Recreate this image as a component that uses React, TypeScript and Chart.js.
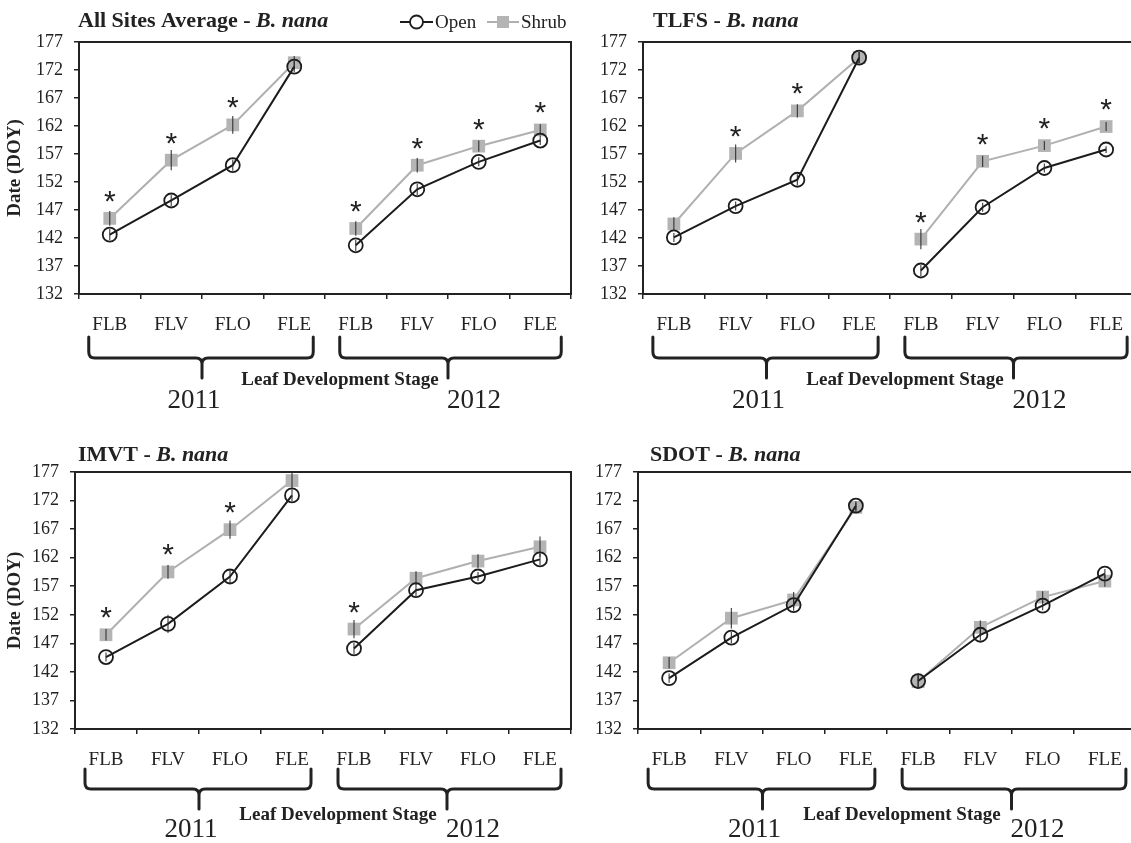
import React, { useEffect, useRef } from 'react';
import { Chart, registerables } from 'chart.js';

Chart.register(...registerables);

// ---------- data ----------
const stages = ['FLB', 'FLV', 'FLO', 'FLE', 'FLB', 'FLV', 'FLO', 'FLE'];
const years = ['2011', '2012'];
const yTicks = [132, 137, 142, 147, 152, 157, 162, 167, 172, 177];
const seriesNames = ['Open', 'Shrub'];
const xAxisTitle = 'Leaf Development Stage';
const yAxisTitle = 'Date (DOY)';
const species = 'B. nana';

const allOpen = [142.6, 148.7, 155.0, 172.6, 140.7, 150.7, 155.6, 159.4];
const allShrub = [145.5, 155.9, 162.2, 173.3, 143.7, 155.0, 158.4, 161.3];
const allOpenErr = [1.0, 1.0, 1.0, 1.0, 1.0, 1.0, 0.8, 0.8];
const allShrubErr = [1.3, 1.8, 1.6, 1.2, 1.3, 1.3, 1.0, 1.0];
const allSig = [1, 1, 1, 0, 1, 1, 1, 1];

const tlfsOpen = [142.1, 147.7, 152.4, 174.2, 136.2, 147.5, 154.5, 157.8];
const tlfsShrub = [144.5, 157.1, 164.7, 174.2, 141.8, 155.7, 158.5, 161.9];
const tlfsOpenErr = [0.8, 0.8, 1.0, 1.0, 1.0, 0.8, 0.8, 0.6];
const tlfsShrubErr = [1.2, 1.6, 1.2, 1.0, 1.8, 1.0, 0.8, 0.8];
const tlfsSig = [0, 1, 1, 0, 1, 1, 1, 1];

const imvtOpen = [144.6, 150.4, 158.7, 172.9, 146.1, 156.3, 158.7, 161.7];
const imvtShrub = [148.5, 159.5, 166.9, 175.5, 149.5, 158.4, 161.4, 163.9];
const imvtOpenErr = [0.8, 1.6, 1.2, 1.0, 1.0, 1.0, 0.8, 1.0];
const imvtShrubErr = [1.0, 1.2, 1.6, 1.6, 1.6, 1.2, 1.2, 1.8];
const imvtSig = [1, 1, 1, 0, 1, 0, 0, 0];

const sdotOpen = [140.9, 148.0, 153.7, 171.1, 140.4, 148.5, 153.6, 159.2];
const sdotShrub = [143.6, 151.4, 154.6, 170.8, 140.3, 149.8, 155.1, 157.9];
const sdotOpenErr = [0.8, 1.0, 1.0, 0.8, 1.4, 1.0, 0.8, 0.8];
const sdotShrubErr = [1.0, 1.8, 1.4, 0.8, 1.2, 1.2, 1.0, 1.0];
const sdotSig = [0, 0, 0, 0, 0, 0, 0, 0];

// ---------- styles ----------
const SERIF = '"Liberation Serif", "Times New Roman", serif';
const INK = '#222222';
const OPEN_COLOR = '#1c1c1c';
const SHRUB_LINE = '#b0b0b0';
const SHRUB_FILL = '#b4b4b4';

type PanelDef = {
  site: string;
  open: number[];
  shrub: number[];
  openErr: number[];
  shrubErr: number[];
  sig: number[];
  left: number;
  top: number;
  width: number;
  height: number;
  yWidth: number;
  xHeight: number;
  padTop: number;
  padRight: number;
  titleX: number;
  titleY: number;
  showYTitle: boolean;
  showLegend: boolean;
  deco: { bTop: number; bH: number; bStem: number; ldsY: number; yearY: number };
};

const topDeco = { bTop: 43, bH: 64, bStem: 84, ldsY: 91, yearY: 114 };
const botDeco = { bTop: 40, bH: 60, bStem: 80, ldsY: 91, yearY: 108 };

const panels: PanelDef[] = [
  {
    site: 'All Sites Average', open: allOpen, shrub: allShrub, openErr: allOpenErr, shrubErr: allShrubErr, sig: allSig,
    left: 0, top: 0, width: 580, height: 420, yWidth: 79, xHeight: 126, padTop: 42, padRight: 6,
    titleX: 78, titleY: 27, showYTitle: true, showLegend: true, deco: topDeco,
  },
  {
    site: 'TLFS', open: tlfsOpen, shrub: tlfsShrub, openErr: tlfsOpenErr, shrubErr: tlfsShrubErr, sig: tlfsSig,
    left: 564, top: 0, width: 582, height: 420, yWidth: 79, xHeight: 126, padTop: 42, padRight: 6,
    titleX: 89, titleY: 27, showYTitle: false, showLegend: false, deco: topDeco,
  },
  {
    site: 'IMVT', open: imvtOpen, shrub: imvtShrub, openErr: imvtOpenErr, shrubErr: imvtShrubErr, sig: imvtSig,
    left: 0, top: 430, width: 580, height: 413, yWidth: 75, xHeight: 114, padTop: 42, padRight: 6,
    titleX: 78, titleY: 31, showYTitle: true, showLegend: false, deco: botDeco,
  },
  {
    site: 'SDOT', open: sdotOpen, shrub: sdotShrub, openErr: sdotOpenErr, shrubErr: sdotShrubErr, sig: sdotSig,
    left: 563, top: 430, width: 582, height: 413, yWidth: 75, xHeight: 114, padTop: 42, padRight: 6,
    titleX: 87, titleY: 31, showYTitle: false, showLegend: false, deco: botDeco,
  },
];

function drawBracket(ctx: CanvasRenderingContext2D, x1: number, x2: number, xm: number, yTop: number, yH: number, yStem: number) {
  const r = 6;
  ctx.beginPath();
  ctx.moveTo(x1, yTop);
  ctx.lineTo(x1, yH - r);
  ctx.quadraticCurveTo(x1, yH, x1 + r, yH);
  ctx.lineTo(xm - r, yH);
  ctx.quadraticCurveTo(xm, yH, xm, yH + r);
  ctx.lineTo(xm, yStem);
  ctx.moveTo(xm, yH + r);
  ctx.quadraticCurveTo(xm, yH, xm + r, yH);
  ctx.lineTo(x2 - r, yH);
  ctx.quadraticCurveTo(x2, yH, x2, yH - r);
  ctx.lineTo(x2, yTop);
  ctx.stroke();
}

function makeDecorPlugin(def: PanelDef) {
  return {
    id: 'decor',
    afterDatasetsDraw(chart: any) {
      const ctx: CanvasRenderingContext2D = chart.ctx;
      const xs = chart.scales.x;
      const ys = chart.scales.y;
      ctx.save();
      // error bars
      ctx.strokeStyle = 'rgba(40,40,40,0.85)';
      ctx.lineWidth = 1.2;
      const bars = (vals: number[], errs: number[]) => {
        vals.forEach((v, i) => {
          const x = xs.getPixelForTick(i);
          ctx.beginPath();
          ctx.moveTo(x, ys.getPixelForValue(v - errs[i]));
          ctx.lineTo(x, ys.getPixelForValue(v + errs[i]));
          ctx.stroke();
        });
      };
      bars(def.shrub, def.shrubErr);
      bars(def.open, def.openErr);
      // significance asterisks
      ctx.fillStyle = INK;
      ctx.font = '30px "Liberation Sans", sans-serif';
      ctx.textAlign = 'center';
      ctx.textBaseline = 'alphabetic';
      const m = ctx.measureText('*');
      const mid = (m.actualBoundingBoxAscent - m.actualBoundingBoxDescent) / 2;
      def.sig.forEach((s, i) => {
        if (!s) return;
        const top = Math.max(def.shrub[i], def.open[i]);
        const cy = ys.getPixelForValue(top) - 22;
        ctx.fillText('*', xs.getPixelForTick(i), cy + mid);
      });
      ctx.restore();
    },
    afterDraw(chart: any) {
      const ctx: CanvasRenderingContext2D = chart.ctx;
      const ca = chart.chartArea;
      const xs = chart.scales.x;
      const d = def.deco;
      ctx.save();
      // frame
      ctx.strokeStyle = INK;
      ctx.lineWidth = 2;
      ctx.strokeRect(ca.left, ca.top, ca.right - ca.left, ca.bottom - ca.top);

      // title
      ctx.fillStyle = INK;
      ctx.textAlign = 'left';
      ctx.textBaseline = 'alphabetic';
      ctx.font = `bold 22px ${SERIF}`;
      const part1 = def.site + ' - ';
      ctx.fillText(part1, def.titleX, def.titleY);
      const w1 = ctx.measureText(part1).width;
      ctx.font = `italic bold 22px ${SERIF}`;
      ctx.fillText(species, def.titleX + w1, def.titleY);

      // brackets
      const c = stages.map((_, i) => xs.getPixelForTick(i));
      ctx.lineWidth = 3;
      ctx.lineCap = 'round';
      ctx.lineJoin = 'round';
      const b = ca.bottom;
      const m1 = (c[0] + c[3]) / 2;
      const m2 = (c[4] + c[7]) / 2;
      drawBracket(ctx, c[0] - 21, c[3] + 19, m1, b + d.bTop, b + d.bH, b + d.bStem);
      drawBracket(ctx, c[4] - 16, c[7] + 21, m2, b + d.bTop, b + d.bH, b + d.bStem);

      // axis title
      ctx.textAlign = 'center';
      ctx.font = `bold 19px ${SERIF}`;
      ctx.fillText(xAxisTitle, (ca.left + ca.right) / 2 + 15, b + d.ldsY);

      // years
      ctx.font = `27px ${SERIF}`;
      ctx.fillText(years[0], m1 - 8, b + d.yearY);
      ctx.fillText(years[1], m2 + 26, b + d.yearY);

      // legend
      if (def.showLegend) {
        const ly = 22;
        ctx.textAlign = 'left';
        ctx.font = `19px ${SERIF}`;
        ctx.lineCap = 'butt';
        // open
        ctx.strokeStyle = OPEN_COLOR;
        ctx.lineWidth = 2;
        ctx.beginPath();
        ctx.moveTo(400, ly);
        ctx.lineTo(433, ly);
        ctx.stroke();
        ctx.fillStyle = '#ffffff';
        ctx.lineWidth = 1.8;
        ctx.beginPath();
        ctx.arc(416.5, ly, 6.5, 0, Math.PI * 2);
        ctx.fill();
        ctx.stroke();
        ctx.fillStyle = INK;
        ctx.fillText(seriesNames[0], 435, 28);
        // shrub
        ctx.strokeStyle = SHRUB_LINE;
        ctx.lineWidth = 2;
        ctx.beginPath();
        ctx.moveTo(487, ly);
        ctx.lineTo(519, ly);
        ctx.stroke();
        ctx.fillStyle = SHRUB_FILL;
        ctx.fillRect(503 - 6, ly - 6, 12, 12);
        ctx.fillStyle = INK;
        ctx.fillText(seriesNames[1], 521, 28);
      }
      ctx.restore();
    },
  };
}

function Panel({ def }: { def: PanelDef }) {
  const ref = useRef<HTMLCanvasElement>(null);
  useEffect(() => {
    const canvas = ref.current;
    if (!canvas) return;
    const gap = (color: string) => (c: any) => (c.p0DataIndex === 3 ? 'rgba(0,0,0,0)' : color);
    const chart = new Chart(canvas, {
      type: 'line',
      data: {
        labels: stages,
        datasets: [
          {
            label: seriesNames[0],
            data: def.open,
            borderColor: OPEN_COLOR,
            borderWidth: 2,
            pointStyle: 'circle',
            pointRadius: 7,
            pointBorderWidth: 1.8,
            pointBackgroundColor: 'rgba(255,255,255,0)',
            pointBorderColor: OPEN_COLOR,
            segment: { borderColor: gap(OPEN_COLOR) },
            tension: 0,
            order: 0,
          },
          {
            label: seriesNames[1],
            data: def.shrub,
            borderColor: SHRUB_LINE,
            borderWidth: 2,
            pointStyle: 'rect',
            pointRadius: 9,
            pointBorderWidth: 0,
            pointBackgroundColor: SHRUB_FILL,
            pointBorderColor: SHRUB_FILL,
            segment: { borderColor: gap(SHRUB_LINE) },
            tension: 0,
            order: 1,
          },
        ],
      },
      options: {
        responsive: false,
        animation: false,
        events: [],
        layout: { padding: { top: def.padTop, right: def.padRight, left: 0, bottom: 0 } },
        plugins: {
          legend: { display: false },
          tooltip: { enabled: false },
          title: { display: false },
        },
        scales: {
          x: {
            type: 'category',
            offset: true,
            grid: {
              display: true,
              offset: true,
              drawOnChartArea: false,
              drawTicks: true,
              tickLength: 5,
              color: INK,
              lineWidth: 1.5,
            },
            border: { display: true, color: INK, width: 2 },
            ticks: {
              font: { family: SERIF, size: 19 },
              color: INK,
              padding: 15,
              maxRotation: 0,
              autoSkip: false,
            },
            afterFit: (s: any) => {
              s.height = def.xHeight;
            },
          },
          y: {
            type: 'linear',
            min: yTicks[0],
            max: yTicks[yTicks.length - 1],
            afterBuildTicks: (s: any) => {
              s.ticks = yTicks.map((v) => ({ value: v }));
            },
            grid: {
              display: true,
              drawOnChartArea: false,
              drawTicks: true,
              tickLength: 5,
              color: INK,
              lineWidth: 1.5,
            },
            border: { display: true, color: INK, width: 2 },
            ticks: {
              font: { family: SERIF, size: 18 },
              color: INK,
              padding: 11,
            },
            title: {
              display: def.showYTitle,
              text: yAxisTitle,
              font: { family: SERIF, size: 19, weight: 'bold' },
              color: INK,
              padding: { top: 4, bottom: 4 },
            },
            afterFit: (s: any) => {
              s.width = def.yWidth;
            },
          },
        },
      } as any,
      plugins: [makeDecorPlugin(def)],
    });
    return () => chart.destroy();
  }, [def]);
  return (
    <canvas
      ref={ref}
      width={def.width}
      height={def.height}
      style={{ position: 'absolute', left: def.left, top: def.top, width: def.width, height: def.height }}
    />
  );
}

export default function App() {
  return (
    <div
      style={{
        position: 'absolute',
        left: 0,
        top: 0,
        width: 1131,
        height: 843,
        overflow: 'hidden',
        background: '#ffffff',
      }}
    >
      {panels.map((p) => (
        <Panel key={p.site} def={p} />
      ))}
    </div>
  );
}
